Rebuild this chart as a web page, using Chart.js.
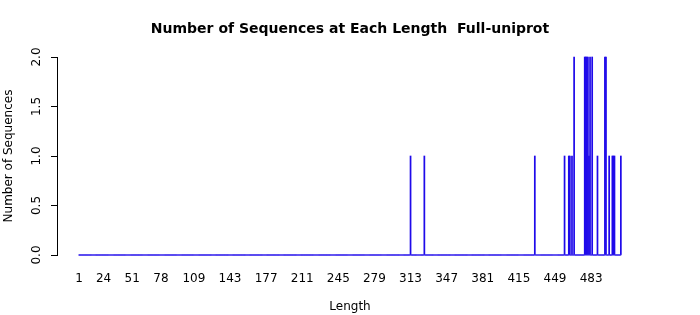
<!DOCTYPE html>
<html>
<head>
<meta charset="utf-8">
<script src="https://cdn.jsdelivr.net/npm/chart.js@4.4.1/dist/chart.umd.min.js"></script>
<style>
  html, body { margin: 0; padding: 0; background: #fff; }
  canvas { display: block; }
</style>
</head>
<body>
<canvas id="chart_elem" width="700" height="315"></canvas>
<script>
// sequence lengths with a non-zero count (everything else in range is 0)
const lengthMin = 1;
const lengthMax = 511;
const seqLengths = [313, 326, 430, 458, 462, 463, 465, 467, 477, 478, 479, 480, 481, 482, 484, 489, 496, 497, 500, 503, 504, 505, 511];
const seqCounts  = [1,   1,   1,   1,   1,   1,   1,   2,   2,   2,   2,   2,   1,   2,   2,   1,   2,   2,   1,   1,   1,   1,   1];

// tick labels
const lengthTicks = [1, 24, 51, 78, 109, 143, 177, 211, 245, 279, 313, 347, 381, 415, 449, 483];
const countTicks = [0, 0.5, 1, 1.5, 2];

const barColor = '#1f0aea';

// one bar per length, like the R barplot
const barData = [];
for (let len = lengthMin; len <= lengthMax; len++) {
  const i = seqLengths.indexOf(len);
  barData.push({ x: len, y: i >= 0 ? seqCounts[i] : 0 });
}

// R draws zero-height bars as a flat line along the base
const halfBar = 0.42;
const baseLine = [
  { x: lengthMin - halfBar, y: 0 },
  { x: lengthMax + halfBar, y: 0 }
];
const span = (lengthMax + halfBar) - (lengthMin - halfBar);
const xMin = lengthMin - halfBar - 0.04 * span;
const xMax = lengthMax + halfBar + 0.04 * span;

Chart.defaults.font.family = "'DejaVu Sans', sans-serif";
Chart.defaults.color = '#000';

// y tick labels in R are parallel to the axis
const rotatedYTicks = {
  id: 'rotatedYTicks',
  afterDraw(chart) {
    const ctx = chart.ctx;
    const y = chart.scales.y;
    ctx.save();
    ctx.font = "12px 'DejaVu Sans'";
    ctx.fillStyle = '#000';
    ctx.textAlign = 'center';
    ctx.textBaseline = 'middle';
    countTicks.forEach((v) => {
      ctx.save();
      ctx.translate(y.right - 20, y.getPixelForValue(v));
      ctx.rotate(-Math.PI / 2);
      ctx.fillText(v.toFixed(1), 0, 0);
      ctx.restore();
    });
    ctx.restore();
  }
};

const ctx = document.getElementById('chart_elem').getContext('2d');

const chart = new Chart(ctx, {
  type: 'bar',
  data: {
    datasets: [{
      label: 'Number of Sequences',
      data: barData,
      backgroundColor: barColor,
      borderWidth: 0,
      barPercentage: 1,
      categoryPercentage: 1,
      clip: false
    }, {
      type: 'line',
      label: 'base',
      data: baseLine,
      borderColor: barColor,
      borderWidth: 1,
      pointRadius: 0,
      clip: false
    }]
  },
  options: {
    responsive: false,
    animation: false,
    layout: { padding: 0 },
    plugins: {
      legend: { display: false },
      tooltip: { enabled: false },
      title: {
        display: true,
        text: 'Number of Sequences at Each Length  Full-uniprot',
        font: { size: 14, weight: 'bold' },
        color: '#000',
        padding: { top: 20.6, bottom: 19.6 }
      }
    },
    scales: {
      x: {
        type: 'linear',
        min: xMin,
        max: xMax,
        offset: false,
        afterBuildTicks: (scale) => {
          scale.ticks = lengthTicks.map(v => ({ value: v }));
        },
        afterFit: (scale) => { scale.height = 60; },
        grid: { display: false },
        border: { display: false },
        ticks: {
          autoSkip: false,
          maxRotation: 0,
          minRotation: 0,
          padding: 9,
          font: { size: 12 },
          callback: (v) => String(v)
        },
        title: {
          display: true,
          text: 'Length',
          font: { size: 12 },
          padding: { top: 0, bottom: 1 }
        }
      },
      y: {
        min: 0,
        max: 2,
        afterBuildTicks: (scale) => {
          scale.ticks = countTicks.map(v => ({ value: v }));
        },
        afterFit: (scale) => { scale.width = 57; },
        grid: {
          display: true,
          drawOnChartArea: false,
          drawTicks: true,
          tickLength: 6,
          color: '#000'
        },
        border: { display: true, color: '#000' },
        ticks: { display: false },
        title: {
          display: true,
          text: 'Number of Sequences',
          font: { size: 12 },
          padding: { top: 2, bottom: 0 }
        }
      },
      // empty right margin so the title centres on the page like R's plot
      yRight: {
        position: 'right',
        min: 0,
        max: 2,
        afterFit: (scale) => { scale.width = 57; },
        grid: { display: false },
        border: { display: false },
        ticks: { display: false }
      }
    }
  },
  plugins: [rotatedYTicks]
});
</script>
</body>
</html>
